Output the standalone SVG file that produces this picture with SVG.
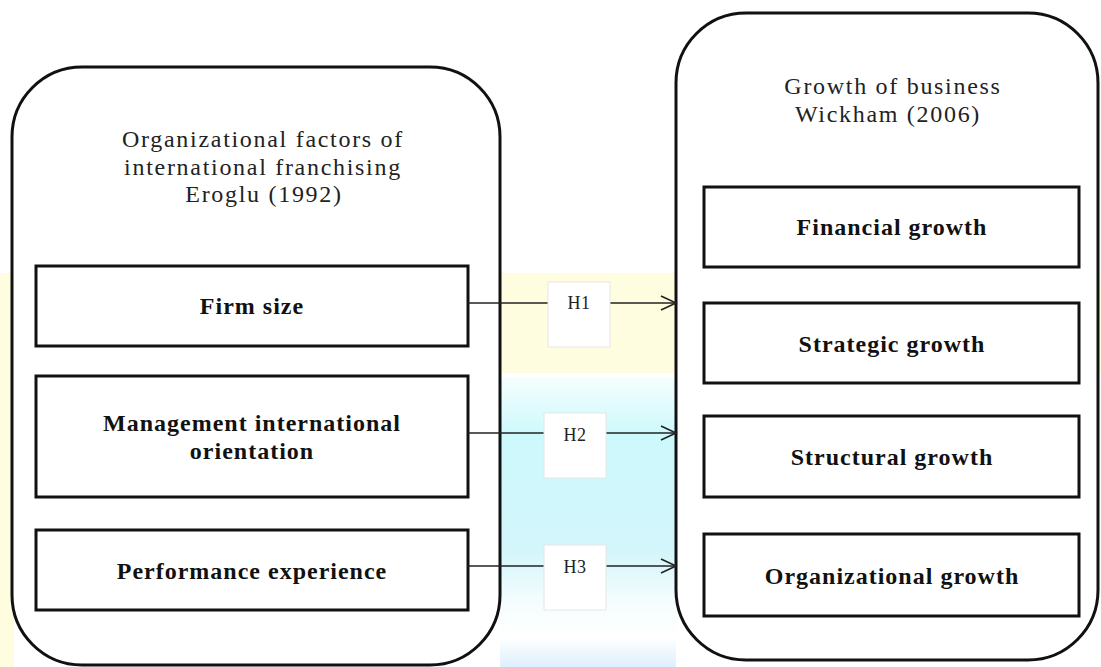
<svg xmlns="http://www.w3.org/2000/svg" width="1101" height="667" viewBox="0 0 1101 667">
  <defs>
    <style>
      .outer { fill: #ffffff; stroke: #111; stroke-width: 3; }
      .inner { fill: #ffffff; stroke: #111; stroke-width: 3; }
      .title { font-family: "Liberation Serif", "Times New Roman", serif; font-size: 24px; letter-spacing: 1.7px; fill: #222; text-anchor: middle; }
      .lbl { font-family: "Liberation Serif", "Times New Roman", serif; font-size: 24px; font-weight: bold; letter-spacing: 1px; fill: #111; text-anchor: middle; }
      .hbox { fill: #ffffff; stroke: #e6e6e6; stroke-width: 1; }
      .htxt { font-family: "Liberation Serif", "Times New Roman", serif; font-size: 18px; letter-spacing: 0.5px; fill: #222; text-anchor: middle; }
      .conn { stroke: #222; stroke-width: 1.6; fill: none; }
    </style>
    <marker id="arrow" markerWidth="18" markerHeight="18" refX="16" refY="8" orient="auto" markerUnits="userSpaceOnUse">
      <path d="M1,1 L16,8 L1,15" fill="none" stroke="#222" stroke-width="1.6"/>
    </marker>
    <linearGradient id="cyan" x1="0" y1="0" x2="0" y2="1">
      <stop offset="0" stop-color="#f4fefe"/>
      <stop offset="0.2" stop-color="#cdf9fc"/>
      <stop offset="0.6" stop-color="#d3f6fb"/>
      <stop offset="0.78" stop-color="#f5fdfe"/>
      <stop offset="0.9" stop-color="#ffffff"/>
      <stop offset="1" stop-color="#ddeffd"/>
    </linearGradient>
  </defs>

  <!-- background watermark tints -->
  <rect x="0" y="0" width="1101" height="667" fill="#ffffff"/>
  <rect x="0" y="273" width="1101" height="100" fill="#fffde0"/>
  <rect x="0" y="273" width="14" height="394" fill="#fffde0"/>
  <rect x="500" y="378" width="176" height="289" fill="url(#cyan)"/>

  <g id="left-group">
    <rect class="outer" x="12" y="67" width="488" height="598" rx="70" ry="70"/>
    <text class="title"><tspan x="263" y="147">Organizational factors of</tspan><tspan x="263" y="175">international franchising</tspan><tspan x="264" y="202">Eroglu (1992)</tspan></text>
  </g>

  <g id="right-group">
    <rect class="outer" x="676" y="13" width="422" height="647" rx="70" ry="70"/>
    <text class="title"><tspan x="893" y="94">Growth of business</tspan><tspan x="888" y="122">Wickham (2006)</tspan></text>
  </g>

  <g id="firm-size">
    <rect class="inner" x="36" y="266" width="432" height="80"/>
    <text class="lbl" x="252" y="314">Firm size</text>
  </g>
  <g id="management-orientation">
    <rect class="inner" x="36" y="376" width="432" height="121"/>
    <text class="lbl"><tspan x="252" y="431">Management international</tspan><tspan x="252" y="459">orientation</tspan></text>
  </g>
  <g id="performance-experience">
    <rect class="inner" x="36" y="530" width="432" height="80"/>
    <text class="lbl" x="252" y="579">Performance experience</text>
  </g>

  <g id="financial-growth">
    <rect class="inner" x="704" y="187" width="375" height="80"/>
    <text class="lbl" x="892" y="235">Financial growth</text>
  </g>
  <g id="strategic-growth">
    <rect class="inner" x="704" y="303" width="375" height="80"/>
    <text class="lbl" x="892" y="352">Strategic growth</text>
  </g>
  <g id="structural-growth">
    <rect class="inner" x="704" y="416" width="375" height="81"/>
    <text class="lbl" x="892" y="465">Structural growth</text>
  </g>
  <g id="organizational-growth">
    <rect class="inner" x="704" y="534" width="375" height="82"/>
    <text class="lbl" x="892" y="584">Organizational growth</text>
  </g>

  <g id="connectors">
    <line class="conn" x1="468" y1="303" x2="676" y2="303" marker-end="url(#arrow)"/>
    <line class="conn" x1="468" y1="433" x2="676" y2="433" marker-end="url(#arrow)"/>
    <line class="conn" x1="468" y1="566" x2="676" y2="566" marker-end="url(#arrow)"/>
    <g id="h1">
      <rect class="hbox" x="548" y="282" width="62" height="65"/>
      <text class="htxt" x="579" y="309">H1</text>
    </g>
    <g id="h2">
      <rect class="hbox" x="544" y="413" width="62" height="65"/>
      <text class="htxt" x="575" y="441">H2</text>
    </g>
    <g id="h3">
      <rect class="hbox" x="544" y="545" width="62" height="65"/>
      <text class="htxt" x="575" y="573">H3</text>
    </g>
  </g>
</svg>
